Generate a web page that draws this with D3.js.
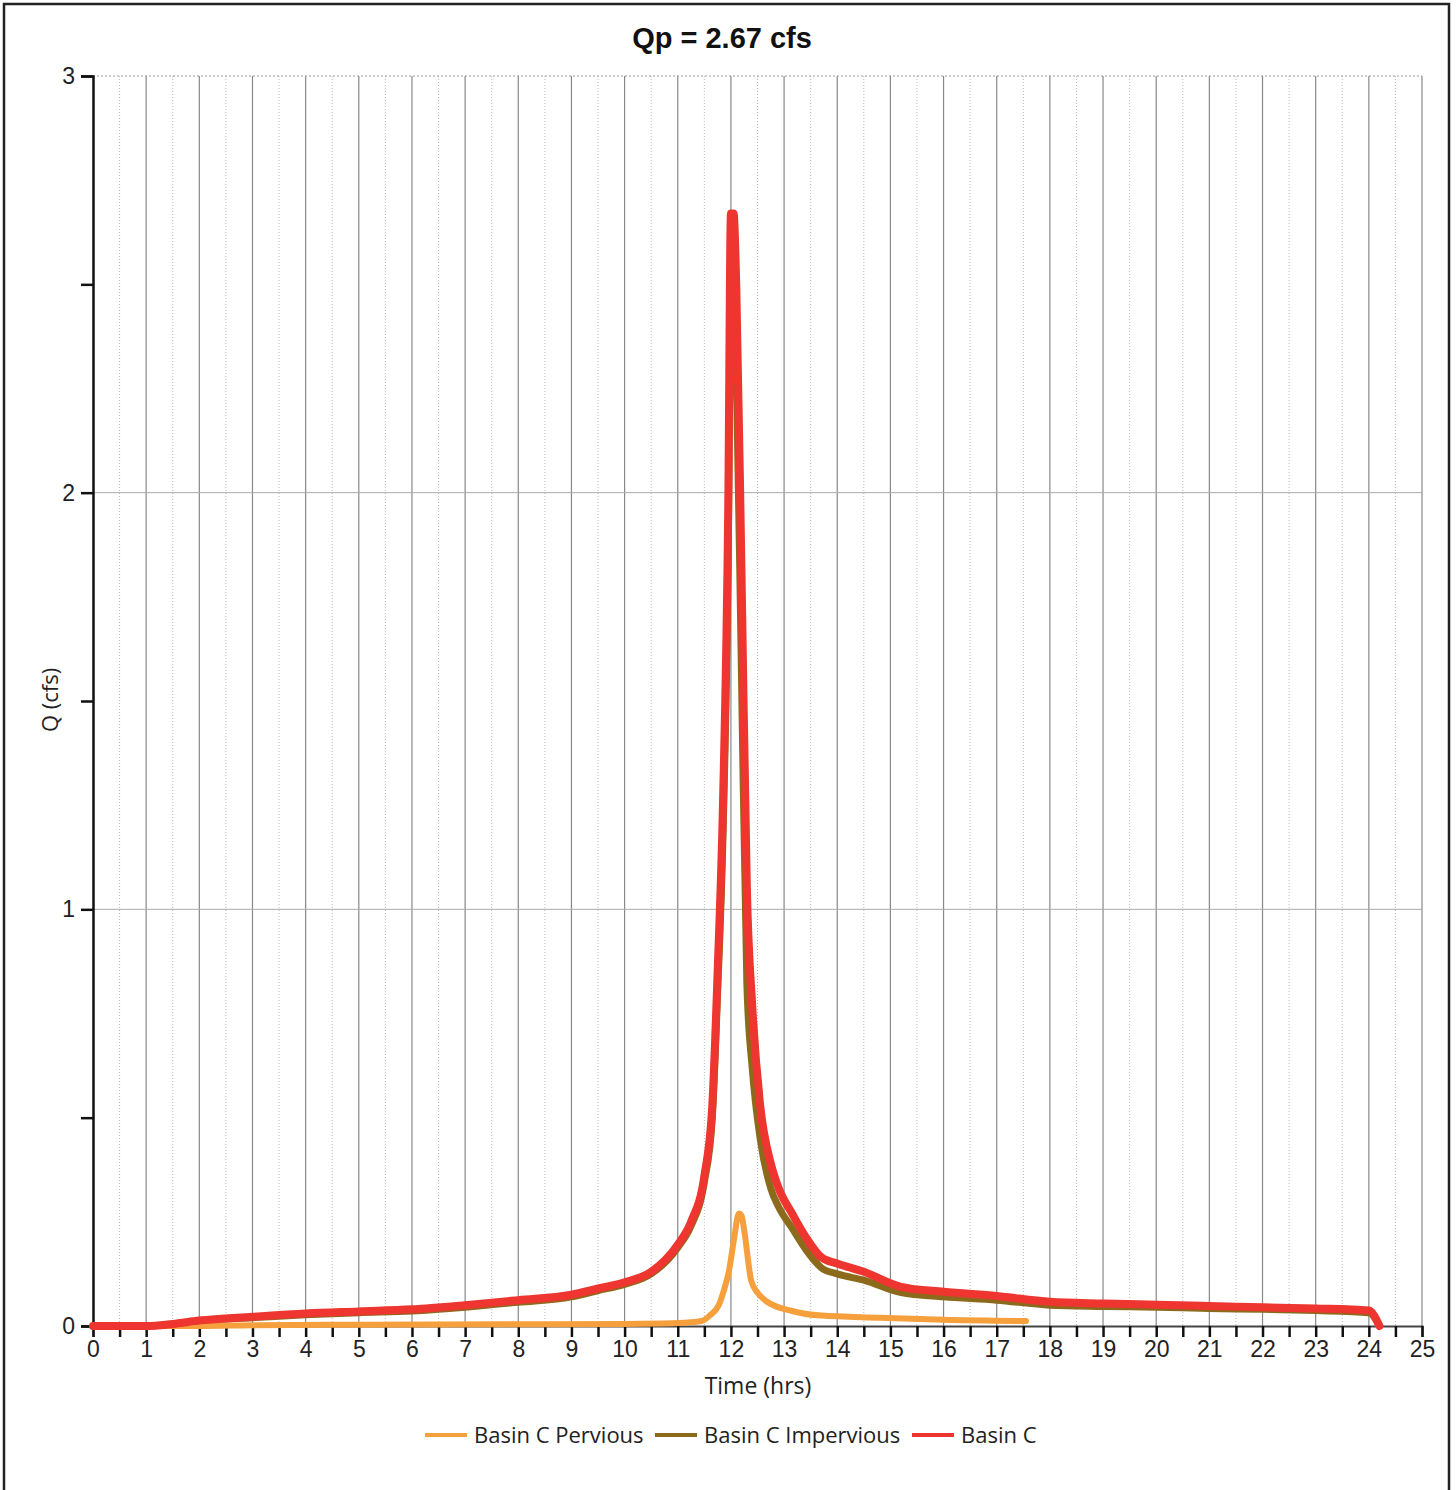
<!DOCTYPE html>
<html>
<head>
<meta charset="utf-8">
<script src="https://cdn.jsdelivr.net/npm/d3@7"></script>
<style>
  body { margin: 0; background: #fff; }
  svg { display: block; font-family: "Open Sans", "Noto Sans", sans-serif; }
</style>
</head>
<body>
<svg width="1456" height="1490"></svg>
<script>
var title = "Qp = 2.67 cfs";
var xTicks = d3.range(0, 26);
var yTicks = [0, 1, 2, 3];

// Basin C (total)
var basinT = [0, 1, 1.5, 2, 3, 4, 5, 6, 7, 8, 9, 9.5, 10, 10.5, 11, 11.25, 11.5, 11.65, 11.75, 11.85, 11.95, 12.0, 12.05, 12.1, 12.2, 12.3, 12.4, 12.55, 12.75, 12.9, 13.15, 13.4, 13.7, 14.0, 14.5, 15.2, 16, 17, 18, 19, 20, 21, 22, 23, 24, 24.2];
var basinQ = [0, 0, 0.005, 0.013, 0.022, 0.03, 0.035, 0.04, 0.05, 0.062, 0.075, 0.09, 0.105, 0.13, 0.195, 0.25, 0.36, 0.53, 0.85, 1.25, 1.97, 2.67, 2.67, 2.5, 1.8, 1.05, 0.77, 0.53, 0.39, 0.33, 0.27, 0.215, 0.165, 0.15, 0.13, 0.094, 0.082, 0.072, 0.058, 0.054, 0.051, 0.048, 0.045, 0.042, 0.037, 0];

// Basin C Impervious
var impT = basinT;
var impQ = [0, 0, 0.005, 0.013, 0.02, 0.027, 0.032, 0.036, 0.045, 0.057, 0.07, 0.085, 0.1, 0.125, 0.188, 0.24, 0.345, 0.5, 0.8, 1.17, 1.85, 2.5, 2.52, 2.3, 1.55, 0.82, 0.62, 0.45, 0.33, 0.285, 0.235, 0.185, 0.14, 0.125, 0.11, 0.08, 0.07, 0.062, 0.05, 0.047, 0.045, 0.042, 0.04, 0.037, 0.032, 0];

// Basin C Pervious
var perT = [0, 2, 3, 5, 8, 10, 11, 11.45, 11.6, 11.77, 11.9, 11.96, 12.06, 12.15, 12.2, 12.25, 12.38, 12.5, 12.66, 13.15, 13.7, 14.8, 16, 17.55];
var perQ = [0, 0, 0.002, 0.003, 0.004, 0.005, 0.007, 0.012, 0.025, 0.05, 0.1, 0.13, 0.21, 0.27, 0.265, 0.23, 0.11, 0.08, 0.06, 0.036, 0.025, 0.02, 0.015, 0.012];

var series = [
  {name: "Basin C Pervious", t: perT, q: perQ, color: "#f5a03c", w: 6},
  {name: "Basin C Impervious", t: impT, q: impQ, color: "#8c6a1c", w: 7},
  {name: "Basin C", t: basinT, q: basinQ, color: "#ee3530", w: 8}
];

var svg = d3.select("svg");

// outer frame
svg.append("rect")
    .attr("x", 4).attr("y", 4)
    .attr("width", 1445).attr("height", 1500)
    .attr("fill", "none")
    .attr("stroke", "#222")
    .attr("stroke-width", 2.5);

var margin = {top: 76, left: 93, right: 34, bottom: 164},
    width = 1456 - margin.left - margin.right,
    height = 1490 - margin.top - margin.bottom,
    g = svg.append("g").attr("transform", "translate(" + margin.left + "," + margin.top + ")");

var x = d3.scaleLinear().domain([0, 25]).range([0, width]);
var y = d3.scaleLinear().domain([0, 3]).range([height, 0]);

// half-hour gridlines (dotted)
g.append("g").selectAll("line")
    .data(d3.range(0.5, 25, 1))
  .enter().append("line")
    .attr("x1", x).attr("x2", x)
    .attr("y1", 0).attr("y2", height)
    .attr("stroke", "#bbb")
    .attr("stroke-dasharray", "1,2");

// hour gridlines
g.append("g").selectAll("line")
    .data(d3.range(1, 26))
  .enter().append("line")
    .attr("x1", x).attr("x2", x)
    .attr("y1", 0).attr("y2", height)
    .attr("stroke", "#888")
    .attr("stroke-width", 1.2);

// horizontal gridlines
g.append("g").selectAll("line")
    .data([1, 2])
  .enter().append("line")
    .attr("x1", 0).attr("x2", width)
    .attr("y1", y).attr("y2", y)
    .attr("stroke", "#aaa");

g.append("line")
    .attr("x1", 0).attr("x2", width)
    .attr("y1", y(3)).attr("y2", y(3))
    .attr("stroke", "#999")
    .attr("stroke-dasharray", "2,2");

// x axis
var xAxis = g.append("g")
    .attr("transform", "translate(0," + height + ")")
    .call(d3.axisBottom(x).tickValues(d3.range(0, 25.5, 0.5))
      .tickSize(11).tickPadding(4)
      .tickFormat(function(d) { return d % 1 === 0 ? d : ""; }));
xAxis.select(".domain").attr("stroke", "#444").attr("stroke-width", 2);
xAxis.selectAll(".tick line").attr("stroke", "#111").attr("stroke-width", 2.5);
xAxis.selectAll("text").attr("fill", "#222").style("font-size", "23px");

// y axis
var yAxis = g.append("g")
    .call(d3.axisLeft(y).tickValues(d3.range(0, 3.5, 0.5))
      .tickSize(12).tickPadding(6)
      .tickFormat(function(d) { return d % 1 === 0 ? d : ""; }));
yAxis.select(".domain").attr("stroke", "#111").attr("stroke-width", 2.5);
yAxis.selectAll(".tick line").attr("stroke", "#111").attr("stroke-width", 2.5);
yAxis.selectAll("text").attr("fill", "#222").style("font-size", "23px");

// lines
var line = d3.line()
    .curve(d3.curveMonotoneX)
    .x(function(d) { return x(d[0]); })
    .y(function(d) { return y(d[1]); });

series.forEach(function(s) {
  g.append("path")
      .datum(d3.zip(s.t, s.q))
      .attr("fill", "none")
      .attr("stroke", s.color)
      .attr("stroke-width", s.w)
      .attr("stroke-linejoin", "round")
      .attr("stroke-linecap", "round")
      .attr("d", line);
});

// title + axis labels
svg.append("text")
    .attr("x", 722).attr("y", 48)
    .attr("text-anchor", "middle")
    .style("font-family", "'Liberation Sans', Arial, sans-serif")
    .style("font-weight", "bold")
    .style("font-size", "29px")
    .attr("fill", "#111")
    .text(title);

svg.append("text")
    .attr("transform", "translate(50," + 700 + ") rotate(-90)")
    .attr("text-anchor", "middle")
    .attr("dy", "0.35em")
    .style("font-size", "22px")
    .attr("fill", "#222")
    .text("Q (cfs)");

svg.append("text")
    .attr("x", 758).attr("y", 1394)
    .attr("text-anchor", "middle")
    .style("font-size", "23px")
    .attr("fill", "#222")
    .text("Time (hrs)");

// legend
var legendX = [425, 655, 912];
series.forEach(function(s, i) {
  var lg = svg.append("g").attr("transform", "translate(" + legendX[i] + ",1435)");
  lg.append("line")
      .attr("x1", 0).attr("x2", 42)
      .attr("stroke", s.color)
      .attr("stroke-width", 4);
  lg.append("text")
      .attr("x", 49).attr("dy", "0.35em")
      .style("font-size", "22px")
      .attr("fill", "#222")
      .text(s.name);
});
</script>
</body>
</html>
